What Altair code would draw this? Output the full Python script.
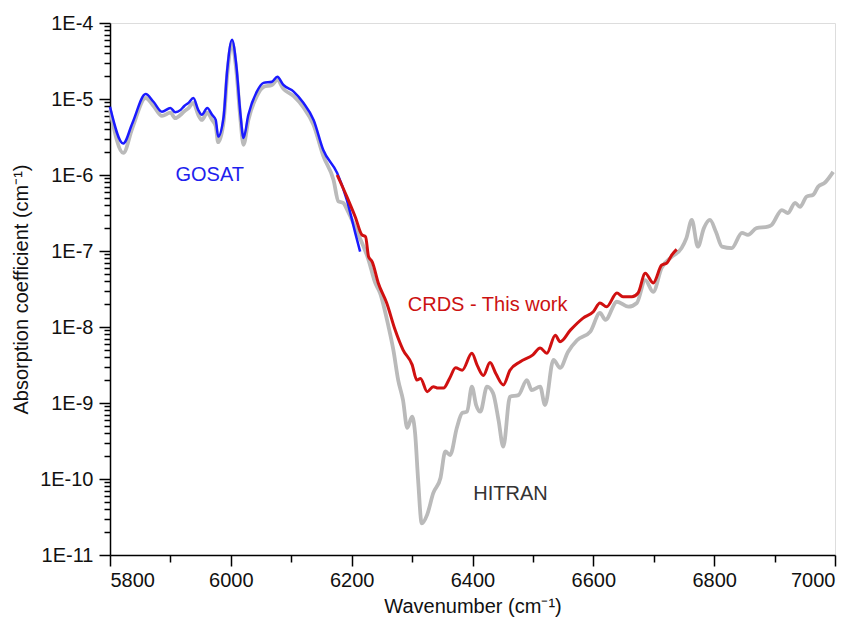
import altair as alt
import pandas as pd

# ---- data ----
gosat_wn = [5800, 5822, 5837, 5859, 5872, 5886, 5900, 5908, 5917, 5923, 5930, 5938, 5946, 5952,
            5961, 5969, 5975, 5979, 5988, 5994, 6002, 6009, 6016, 6021, 6029, 6043, 6054, 6068,
            6077, 6087, 6104, 6120, 6137, 6153, 6176, 6192, 6206, 6214]
gosat_k = [7.9e-6, 2.6e-6, 4.8e-6, 1.16e-5, 9.2e-6, 6.8e-6, 7.6e-6, 6.7e-6, 7.2e-6, 8.1e-6, 8.9e-6,
           1.03e-5, 7.2e-6, 6.2e-6, 7.6e-6, 6.2e-6, 5.3e-6, 3.2e-6, 5.8e-6, 2.4e-5, 6.0e-5, 2.8e-5,
           6.2e-6, 3.07e-6, 6.2e-6, 1.25e-5, 1.63e-5, 1.69e-5, 1.96e-5, 1.53e-5, 1.25e-5, 8.9e-6,
           5.3e-6, 2.13e-6, 1.06e-6, 4.7e-7, 1.72e-7, 9.8e-8]

crds_wn = [6176, 6192, 6206, 6217, 6223, 6228, 6234, 6244, 6258, 6272, 6285, 6300, 6308, 6314,
           6325, 6335, 6343, 6352, 6362, 6372, 6383, 6399, 6408, 6418, 6429, 6439, 6451, 6462,
           6479, 6500, 6512, 6523, 6537, 6545, 6562, 6583, 6600, 6611, 6622, 6639, 6649, 6664,
           6674, 6686, 6699, 6713, 6722, 6730, 6738]
crds_k = [1.0e-6, 5.2e-7, 2.8e-7, 1.63e-7, 1.54e-7, 8.4e-8, 7.2e-8, 3.8e-8, 2.07e-8, 9.1e-9, 5.0e-9,
          3.2e-9, 2.0e-9, 2.1e-9, 1.41e-9, 1.64e-9, 1.57e-9, 1.57e-9, 2.1e-9, 2.9e-9, 2.7e-9, 4.5e-9,
          3.1e-9, 2.3e-9, 3.4e-9, 2.4e-9, 1.73e-9, 2.7e-9, 3.5e-9, 4.3e-9, 5.3e-9, 4.5e-9, 7.8e-9,
          6.4e-9, 9.1e-9, 1.31e-8, 1.59e-8, 2.07e-8, 1.85e-8, 2.8e-8, 2.5e-8, 2.5e-8, 2.8e-8, 5.1e-8,
          3.8e-8, 6.5e-8, 7.0e-8, 8.9e-8, 1.05e-7]

hitran_wn = [5800, 5822, 5837, 5859, 5872, 5886, 5900, 5908, 5917, 5923, 5930, 5938, 5946, 5952,
             5961, 5969, 5975, 5979, 5988, 5994, 6002, 6009, 6016, 6021, 6029, 6043, 6054, 6068,
             6077, 6087, 6104, 6120, 6137, 6153, 6170, 6178, 6186, 6194, 6209, 6228, 6239, 6247,
             6261, 6269, 6277, 6285, 6292, 6300, 6305, 6310, 6316, 6325, 6335, 6347, 6355, 6363,
             6374, 6383, 6391, 6399, 6406, 6413, 6424, 6434, 6443, 6451, 6462, 6476, 6490, 6498,
             6512, 6520, 6534, 6545, 6558, 6573, 6595, 6611, 6620, 6639, 6658, 6672, 6686, 6699,
             6713, 6730, 6746, 6754, 6763, 6773, 6783, 6793, 6803, 6813, 6829, 6846, 6856, 6870,
             6889, 6895, 6912, 6922, 6934, 6942, 6953, 6964, 6972, 6983, 6997]
hitran_k = [7.2e-6, 1.95e-6, 4.15e-6, 1.03e-5, 8.1e-6, 6.0e-6, 6.6e-6, 5.6e-6, 6.2e-6, 6.9e-6, 7.6e-6,
            8.9e-6, 6.2e-6, 5.3e-6, 6.6e-6, 5.3e-6, 4.4e-6, 2.7e-6, 5.0e-6, 2.07e-5, 5.5e-5, 2.4e-5,
            5.3e-6, 2.5e-6, 5.3e-6, 1.09e-5, 1.44e-5, 1.53e-5, 1.78e-5, 1.36e-5, 1.09e-5, 7.8e-6,
            4.55e-6, 1.78e-6, 8.6e-7, 4.5e-7, 4.3e-7, 3.3e-7, 1.8e-7, 7.6e-8, 3.8e-8, 2.8e-8,
            1.01e-8, 5.0e-9, 2.0e-9, 1.09e-9, 4.7e-10, 6.6e-10, 4.0e-10, 9.7e-11, 2.6e-11, 3.4e-11,
            6.5e-11, 1.03e-10, 2.3e-10, 2.07e-10, 4.7e-10, 7.4e-10, 7.7e-10, 1.64e-9, 9.4e-10,
            7.7e-10, 1.64e-9, 1.35e-9, 6.0e-10, 2.66e-10, 1.21e-9, 1.27e-9, 2.0e-9, 1.48e-9, 1.64e-9,
            9.4e-10, 3.7e-9, 2.9e-9, 4.7e-9, 6.7e-9, 8.7e-9, 1.53e-8, 1.24e-8, 2.15e-8, 1.85e-8,
            2.07e-8, 4.15e-8, 2.9e-8, 6.0e-8, 8.4e-8, 1.09e-7, 1.48e-7, 2.56e-7, 1.14e-7, 2.0e-7,
            2.56e-7, 1.78e-7, 1.14e-7, 1.09e-7, 1.73e-7, 1.63e-7, 2.0e-7, 2.09e-7, 2.2e-7, 3.46e-7,
            3.16e-7, 4.3e-7, 3.8e-7, 5.2e-7, 5.5e-7, 7.0e-7, 7.9e-7, 1.1e-6]

label_text = ["GOSAT", "CRDS - This work", "HITRAN"]
label_wn = [5965, 6425, 6463]
label_k = [1.0e-6, 1.95e-8, 6.4e-11]
label_color = ["#1f1fee", "#cc1111", "#333333"]

# all tick positions: majors every 200 / every decade, minors in between
x_ticks = list(range(5800, 7001, 100))
y_ticks = [float(f"{m}e{e}") for e in range(-11, -4) for m in range(1, 10)] + [1e-4]

FONT = "Liberation Sans"
xscale = alt.Scale(domain=[5800, 7000], nice=False, zero=False)
yscale = alt.Scale(type="log", domain=[1e-11, 1e-4], nice=False)

gosat = pd.DataFrame({"wn": gosat_wn, "k": gosat_k})
crds = pd.DataFrame({"wn": crds_wn, "k": crds_k})
hitran = pd.DataFrame({"wn": hitran_wn, "k": hitran_k})
labels = pd.DataFrame({"text": label_text, "wn": label_wn, "k": label_k, "color": label_color})

x_is_major = "datum.value % 200 == 0"
y_dec = "log(datum.value)/LN10"
y_is_major = f"abs({y_dec} - round({y_dec})) < 0.001"

x_axis = alt.Axis(values=x_ticks, tickCount=100,
                  labelExpr=f"{x_is_major} ? format(datum.value, 'd') : ''",
                  tickSize={"condition": {"test": x_is_major, "value": 11}, "value": 7},
                  labelPadding=4, labelFontSize=20, titleFontSize=20, titlePadding=6,
                  titleFontWeight="normal", labelOverlap=False,
                  domainColor="black", tickColor="black", domainWidth=1.5,
                  tickWidth=1.5, labelColor="#111", titleColor="#111", grid=False)
y_axis = alt.Axis(values=y_ticks, tickCount=100,
                  labelExpr=f"{y_is_major} ? '1E' + round({y_dec}) : ''",
                  tickSize={"condition": {"test": y_is_major, "value": 11}, "value": 6},
                  labelPadding=6, labelFontSize=20, titleFontSize=20,
                  titleFontWeight="normal", labelOverlap=False,
                  titlePadding=8, domainColor="black", tickColor="black",
                  domainWidth=1.5, tickWidth=1.5, labelColor="#111",
                  titleColor="#111", grid=False)

x_enc = alt.X("wn:Q", scale=xscale, title="Wavenumber (cm⁻¹)", axis=x_axis)
y_enc = alt.Y("k:Q", scale=yscale, title="Absorption coefficient (cm⁻¹)", axis=y_axis)

hitran_line = alt.Chart(hitran).mark_line(color="#bababa", strokeWidth=3.8,
                                          interpolate="monotone").encode(x=x_enc, y=y_enc)
gosat_line = alt.Chart(gosat).mark_line(color="#1a1aff", strokeWidth=2.5,
                                        interpolate="monotone").encode(x="wn:Q", y="k:Q")
crds_line = alt.Chart(crds).mark_line(color="#d01010", strokeWidth=3,
                                      interpolate="monotone").encode(x="wn:Q", y="k:Q")
text = alt.Chart(labels).mark_text(fontSize=20, font=FONT).encode(
    x="wn:Q", y="k:Q", text="text:N", color=alt.Color("color:N", scale=None))

chart = alt.layer(hitran_line, gosat_line, crds_line, text).properties(
    width=725, height=532,
    autosize=alt.AutoSizeParams(type="none"),
    padding={"left": 110, "top": 23, "right": 25, "bottom": 70},
).configure_view(stroke="black", strokeWidth=1.5).configure(font=FONT)

chart.save("out.html", embed_options={"renderer": "svg", "actions": False})
